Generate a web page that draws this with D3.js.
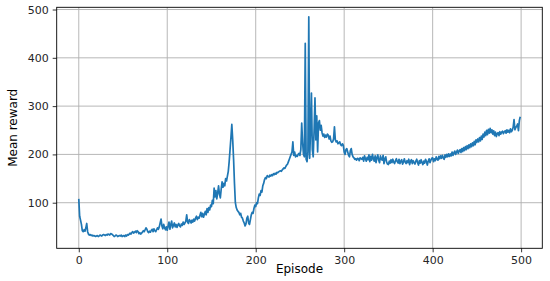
<!DOCTYPE html>
<html>
<head>
<meta charset="utf-8">
<script src="https://cdn.jsdelivr.net/npm/d3@7.9.0/dist/d3.min.js"></script>
<style>
  body { margin: 0; background: #fff; }
  svg { font-family: "DejaVu Sans", sans-serif; }
  .tick text { fill: #262626; }
</style>
</head>
<body>
<svg id="chart" width="550" height="281"></svg>
<script>
// mean reward per episode (episode = index)
const rewards = [
  108, 72, 64, 55, 42, 40, 44, 41, 48, 57,
  40, 35, 33, 34, 32, 33, 31, 32, 31, 30,
  31, 32, 30, 31, 33, 32, 31, 33, 34, 33,
  32, 34, 33, 35, 34, 33, 36, 35, 34, 32,
  30, 31, 33, 32, 30, 31, 32, 31, 33, 30,
  31, 32, 30, 33, 31, 34, 33, 35, 37, 35,
  38, 40, 37, 39, 41, 38, 42, 40, 36, 38,
  35, 37, 39, 42, 40, 44, 48, 45, 40, 38,
  41, 39, 43, 45, 40, 46, 42, 40, 44, 48,
  45, 50, 58, 66, 52, 46, 55, 48, 44, 50,
  43, 52, 60, 45, 55, 62, 48, 53, 58, 50,
  55, 49, 54, 57, 52, 50, 56, 53, 60, 55,
  58, 62, 75, 60, 57, 65, 62, 58, 64, 60,
  66, 62, 68, 72, 65, 70, 68, 74, 80, 71,
  78, 70, 76, 82, 75, 88, 80, 90, 85, 95,
  92, 105, 98, 130, 112, 125, 108, 120, 135, 118,
  110, 128, 143, 132, 140, 135, 150, 145, 155, 165,
  185, 210, 235, 262, 230, 190, 140, 100, 90, 85,
  82, 80, 75, 78, 70, 68, 62, 58, 52, 56,
  68, 72, 58, 55, 65, 75, 80, 78, 88, 95,
  92, 100, 98, 110, 118, 115, 125, 122, 135, 140,
  148, 152, 150, 156, 154, 153, 157, 155, 158, 156,
  160, 158, 161, 159, 163, 162, 164, 165, 166, 165,
  168, 170, 172, 171, 175, 178, 180, 185, 190, 195,
  200, 205, 226, 198, 205, 195, 198, 196, 200, 202,
  198, 210, 265, 225, 200, 195, 430, 190, 185, 205,
  485, 192, 250, 327, 210, 195, 250, 317, 230, 280,
  205, 265, 270, 250, 260, 245, 238, 242, 235, 240,
  236, 242, 240, 232, 238, 228, 225, 226, 232, 257,
  230, 226, 228, 222, 224, 226, 220, 218, 222, 219,
  205, 200, 210, 212, 205, 198, 195, 208, 212, 200,
  195, 193, 190, 191, 188, 192, 191, 187, 193, 191,
  190, 194, 186, 197, 191, 186, 194, 189, 199, 185,
  196, 188, 200, 191, 186, 197, 183, 193, 199, 188,
  183, 197, 190, 188, 198, 181, 191, 195, 184, 180,
  179, 186, 182, 189, 183, 190, 184, 181, 187, 191,
  185, 182, 190, 181, 186, 189, 180, 184, 191, 184,
  181, 187, 183, 190, 179, 186, 189, 181, 187, 183,
  180, 186, 190, 183, 178, 187, 182, 189, 183, 179,
  186, 182, 190, 185, 178, 186, 191, 183, 188, 192,
  193, 185, 191, 187, 195, 190, 188, 196, 191, 197,
  192, 198, 193, 190, 199, 194, 200, 195, 201, 196,
  201, 197, 205, 198, 203, 207, 200, 205, 209, 202,
  207, 210, 204, 212, 206, 214, 208, 216, 210, 218,
  212, 220, 214, 222, 216, 224, 218, 227, 220, 230,
  225, 232, 226, 235, 228, 238, 231, 242, 236, 246,
  239, 250, 241, 252, 244, 254, 245, 251, 242, 249,
  239, 246, 237, 243, 245, 239, 247, 242, 246, 248,
  243, 247, 249, 244, 251, 246, 250, 245, 253, 247,
  250, 256, 272, 251, 256, 258, 263, 249, 270, 278
];
const xTicks = [0, 100, 200, 300, 400, 500];
const yTicks = [100, 200, 300, 400, 500];

const svg = d3.select('#chart');
const plotLeft = 56.7, plotRight = 542.3, plotTop = 7.3, plotBottom = 248.3;

const x = d3.scaleLinear().domain([-24.95, 523.95]).range([plotLeft, plotRight]);
const y = d3.scaleLinear().domain([5.6, 504.6]).range([plotBottom, plotTop]);

// grid
svg.append('g')
  .selectAll('line')
  .data(xTicks)
  .join('line')
  .attr('x1', d => x(d)).attr('x2', d => x(d))
  .attr('y1', plotTop).attr('y2', plotBottom)
  .attr('stroke', '#b0b0b0').attr('stroke-width', 0.9);
svg.append('g')
  .selectAll('line')
  .data(yTicks)
  .join('line')
  .attr('x1', plotLeft).attr('x2', plotRight)
  .attr('y1', d => y(d)).attr('y2', d => y(d))
  .attr('stroke', '#b0b0b0').attr('stroke-width', 0.9);

// the line
const line = d3.line()
  .x((d, i) => x(i))
  .y(d => y(d));
svg.append('path')
  .datum(rewards)
  .attr('d', line)
  .attr('fill', 'none')
  .attr('stroke', '#1f77b4')
  .attr('stroke-width', 1.7)
  .attr('stroke-linejoin', 'round');

// axes
const xAxis = svg.append('g')
  .attr('transform', `translate(0,${plotBottom})`)
  .call(d3.axisBottom(x).tickValues(xTicks).tickSize(4).tickPadding(4).tickSizeOuter(0));
const yAxis = svg.append('g')
  .attr('transform', `translate(${plotLeft},0)`)
  .call(d3.axisLeft(y).tickValues(yTicks).tickSize(4).tickPadding(4).tickSizeOuter(0));
[xAxis, yAxis].forEach(g => {
  g.select('.domain').remove();
  g.selectAll('.tick line').attr('stroke', '#000').attr('stroke-width', 0.8);
  g.selectAll('.tick text').attr('font-size', '11px').attr('font-family', 'DejaVu Sans');
});

// frame
svg.append('rect')
  .attr('x', plotLeft).attr('y', plotTop)
  .attr('width', plotRight - plotLeft).attr('height', plotBottom - plotTop)
  .attr('fill', 'none').attr('stroke', '#000').attr('stroke-width', 0.9);

// labels
svg.append('text')
  .attr('x', (plotLeft + plotRight) / 2).attr('y', 273)
  .attr('text-anchor', 'middle')
  .attr('font-size', '12px')
  .attr('fill', '#000')
  .text('Episode');
svg.append('text')
  .attr('transform', `translate(17,${(plotTop + plotBottom) / 2}) rotate(-90)`)
  .attr('text-anchor', 'middle')
  .attr('font-size', '12px')
  .attr('fill', '#000')
  .text('Mean reward');
</script>
</body>
</html>
